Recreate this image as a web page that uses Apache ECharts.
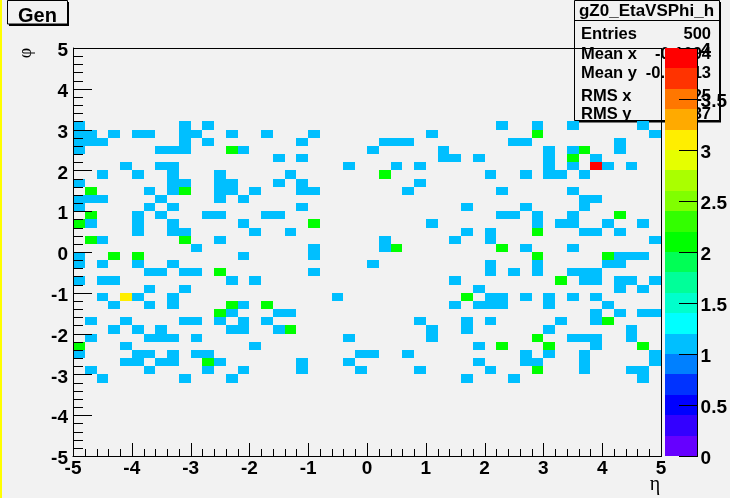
<!DOCTYPE html>
<html><head><meta charset="utf-8">
<style>html,body{margin:0;padding:0;background:#f2f2f2}#c{width:730px;height:498px}</style>
<script src="https://cdn.jsdelivr.net/npm/echarts@6/dist/echarts.min.js"></script>
</head><body><div id="c"></div>
<script>
// Histogram binning: 50 x 50 bins across eta and phi, -5..5
const binWidth = 0.2;
const etaMin = -5;
const phiMax = 5;
// Per phi row (index counted down from phi=5): eta bin indices holding one entry
const oneEntry = {
  9:[0,9,11,36,39,42,48],
  10:[0,1,3,5,6,9,10,13,16,20,30,49],
  11:[0,1,2,9,11,19,26,27,28,37,38,46],
  12:[0,7,8,9,14,25,31,40,42,46],
  13:[17,19,31,32,34,40,44],
  14:[4,7,8,23,27,29,40,42,45,47],
  15:[2,5,8,12,18,35,38,40,41,43],
  16:[0,8,9,12,13,17,19,29],
  17:[6,8,12,13,15,19,20,28,36,42],
  18:[0,1,2,7,12,14,43,44],
  19:[0,6,8,19,33,38,43],
  20:[5,7,11,12,16,17,36,37,39,42],
  21:[1,5,8,14,30,39,41,42,45,48],
  22:[5,8,9,15,18,33,35,43,44,46],
  23:[2,12,26,32,35,49],
  24:[10,20,26,38,42],
  25:[0,14,20,46,47,48],
  26:[0,2,5,8,25,35,39,45,46],
  27:[6,7,9,10,20,35,37,39,42,43,44],
  28:[0,2,3,13,15,32,43,44,46,47,49],
  29:[6,9,34,46,48],
  30:[2,5,8,22,35,36,38,40,42,44],
  31:[3,6,8,14,32,34,35,36,40,45],
  32:[13,17,18,44,46,48,49],
  33:[1,4,9,10,12,14,16,29,33,35,41,44],
  34:[3,5,7,13,14,17,30,33,40,47],
  35:[1,6,7,8,10,23,30,42,43,44,47],
  36:[4,15,34,44],
  37:[0,5,6,8,10,11,24,25,28,38,40,43,49],
  38:[4,5,7,8,12,19,23,34,38,39,43,49],
  39:[1,6,11,14,19,24,29,35,43,47,48],
  40:[2,9,13,33,37,48]
};
const twoEntries = {
  10:[39],12:[13,43],13:[42],15:[26],17:[1,9],20:[1,46],21:[0,20],22:[39],23:[1,9],
  24:[27,36],25:[3,5,39,45],27:[12],28:[41],30:[33],31:[13,16],32:[12],33:[45],34:[18],
  35:[39],36:[0,36,40,48],38:[11],39:[39]
};
const threeEntries = {30:[4]};
const fourEntries = {14:[44]};
const palette = ['#6600ff','#3300ff','#0000ff','#0033ff','#0080ff','#00bfff','#00ffff','#00ffcc','#00ff99','#00ff55',
                 '#00ff00','#33ff00','#80ff00','#aaff00','#e5ff00','#ffee00','#ffaa00','#ff7700','#ff3300','#ff0000'];
const zMax = 4;
const majorTicks = [-5,-4,-3,-2,-1,0,1,2,3,4,5];
const minorOffsets = [0.2,0.4,0.6,0.8];
const zTicks = [0,0.5,1,1.5,2,2.5,3,3.5,4];
const statsTitle = 'gZ0_EtaVSPhi_h';
const statsNames = ['Entries','Mean x','Mean y','RMS x','RMS y'];
const statsValues = ['500','-0.1094','-0.09313','2.825','1.837'];

const cells = [];
[[oneEntry,1],[twoEntries,2],[threeEntries,3],[fourEntries,4]].forEach(([table,count])=>{
  Object.keys(table).forEach(row=>{
    table[row].forEach(bin=>{
      const etaLow = etaMin + bin*binWidth;
      const phiHigh = phiMax - (+row)*binWidth;
      cells.push([etaLow, phiHigh-binWidth, count]);
    });
  });
});
const zStep = zMax/palette.length;
const colorOf = v => palette[Math.min(palette.length-1, Math.floor(v/zStep+1e-9))];
const barLevels = palette.map((c,i)=>[i*zStep,(i+1)*zStep]);
const minorTicks = [];
majorTicks.slice(0,-1).forEach(v=>minorOffsets.forEach(d=>minorTicks.push(v+d)));

const FONT='"Liberation Sans",Arial,sans-serif';
const lab={fontFamily:FONT,fontWeight:'bold',fontSize:19,color:'#000',hideOverlap:false,showMinLabel:true,showMaxLabel:true};
const vLab={...lab,verticalAlign:'top',lineHeight:6};
const line={show:true,onZero:false,lineStyle:{color:'#000',width:1}};
const off={show:false};

const chart=echarts.init(document.getElementById('c'));
const statTexts=[];
const ys=[34,54,73,96,114];
statsNames.forEach((n,i)=>{
  statTexts.push({type:'text',z:1,x:581,y:ys[i],style:{text:n,font:'bold 16.5px '+FONT,fill:'#000',textAlign:'left',textVerticalAlign:'middle'}});
  statTexts.push({type:'text',z:1,x:711,y:ys[i],style:{text:statsValues[i],font:'bold 16.5px '+FONT,fill:'#000',textAlign:'right',textVerticalAlign:'middle'}});
});
const rectCoords=(api,x0,y0,x1,y1)=>{
  const a=api.coord([x0,y1]), b=api.coord([x1,y0]);
  const l=Math.round(a[0]), t=Math.round(a[1]), r=Math.round(b[0]), d=Math.round(b[1]);
  return {x:l,y:t,width:r-l,height:d-t};
};
const black={fill:'#000'};
const bar=(x,y,w,h)=>({type:'rect',shape:{x,y,width:w,height:h},style:black});
chart.setOption({
  animation:false,
  backgroundColor:'#f2f2f2',
  textStyle:{fontFamily:FONT},
  graphic:[
    {type:'rect',z:0,shape:{x:0,y:0,width:2,height:498},style:{fill:'#ffff00'}},
    {type:'rect',z:0,shape:{x:9,y:2,width:60,height:24},style:{fill:'#000'}},
    {type:'rect',z:0,shape:{x:7.5,y:0.5,width:60,height:23.5},style:{fill:'#f2f2f2',stroke:'#000',lineWidth:1}},
    {type:'text',z:1,x:37.5,y:16,style:{text:'Gen',font:'bold 20px '+FONT,fill:'#000',textAlign:'center',textVerticalAlign:'middle'}},
    {type:'rect',z:0,shape:{x:576,y:2,width:145,height:120.5},style:{fill:'#000'}},
    {type:'rect',z:0,shape:{x:574.5,y:0.5,width:145,height:120},style:{fill:'#f2f2f2',stroke:'#000',lineWidth:1}},
    {type:'line',z:0,shape:{x1:574.5,y1:20.5,x2:719.5,y2:20.5},style:{stroke:'#000',lineWidth:1}},
    {type:'text',z:1,x:646.5,y:11.5,style:{text:statsTitle,font:'bold 17px '+FONT,fill:'#000',textAlign:'center',textVerticalAlign:'middle'}},
    {type:'text',z:1,x:655,y:485,style:{text:'η',font:'20px "Liberation Serif",serif',fill:'#000',textAlign:'center',textVerticalAlign:'middle'}},
    {type:'text',z:1,x:26,y:53,rotation:Math.PI/2,style:{text:'φ',font:'18px "Liberation Serif",serif',fill:'#000',textAlign:'center',textVerticalAlign:'middle'}},
    ...statTexts
  ],
  grid:[
    {left:73,top:48,width:588,height:408,show:false},
    {left:665,top:48,width:33,height:408,show:false}
  ],
  xAxis:[
    {gridIndex:0,type:'value',min:-5,max:5,interval:1,position:'bottom',z:5,
     axisLine:line,axisTick:off,minorTick:off,
     splitLine:off,axisLabel:{...lab,margin:3}},
    {gridIndex:1,type:'value',min:0,max:1,show:false}
  ],
  yAxis:[
    {gridIndex:0,type:'value',min:-5,max:5,interval:1,position:'left',z:5,
     axisLine:line,axisTick:off,minorTick:off,
     splitLine:off,axisLabel:{...vLab,margin:5}},
    {gridIndex:1,type:'value',min:0,max:zMax,interval:0.5,position:'right',z:5,
     axisLine:off,axisTick:off,minorTick:off,
     splitLine:off,axisLabel:{...vLab,margin:4}}
  ],
  series:[
    {type:'custom',name:'cells',xAxisIndex:0,yAxisIndex:0,coordinateSystem:'cartesian2d',clip:true,z:2,silent:true,
     encode:{x:0,y:1},data:cells,
     renderItem:(p,api)=>({type:'rect',
       shape:rectCoords(api,api.value(0),api.value(1),api.value(0)+binWidth,api.value(1)+binWidth),
       style:{fill:colorOf(api.value(2))}})},
    {type:'custom',name:'palette',xAxisIndex:1,yAxisIndex:1,coordinateSystem:'cartesian2d',clip:false,z:3,silent:true,
     encode:{y:[0,1]},data:barLevels,
     renderItem:(p,api)=>({type:'rect',
       shape:rectCoords(api,0,api.value(0),1,api.value(1)),
       style:{fill:palette[p.dataIndex]}})},
    {type:'custom',name:'frameAndTicks',xAxisIndex:0,yAxisIndex:0,coordinateSystem:'cartesian2d',clip:false,z:4,silent:true,
     encode:{x:0,y:1},data:[[5,5]],
     renderItem:(p,api)=>{
       const tr=api.coord([5,5]), bl=api.coord([-5,-5]);
       const x1=Math.round(tr[0]), y1=Math.round(tr[1]), x0=Math.round(bl[0]), y0=Math.round(bl[1]);
       const kids=[bar(x0,y1,x1-x0+1,1),bar(x1,y1,1,y0-y1+1)];
       const add=(v,xLen,yLen)=>{
         const cx=api.coord([v,-5]), cy=api.coord([-5,v]);
         kids.push(bar(Math.round(cx[0]),y0-xLen,1,xLen));
         kids.push(bar(x0,Math.round(cy[1]),yLen,1));
       };
       majorTicks.forEach(v=>add(v,13,19));
       minorTicks.forEach(v=>add(v,7,10));
       return {type:'group',children:kids};
     }},
    {type:'custom',name:'paletteAxis',xAxisIndex:1,yAxisIndex:1,coordinateSystem:'cartesian2d',clip:false,z:4,silent:true,
     encode:{y:0},data:[[0]],
     renderItem:(p,api)=>{
       const top=api.coord([1,zMax]), b=api.coord([1,0]);
       const x=Math.round(top[0]), y1=Math.round(top[1]), y0=Math.round(b[1]);
       const kids=[bar(x,y1,1,y0-y1+1)];
       zTicks.forEach(v=>kids.push(bar(x-18,Math.round(api.coord([1,v])[1]),18,1)));
       return {type:'group',children:kids};
     }}
  ]
});
</script></body></html>
